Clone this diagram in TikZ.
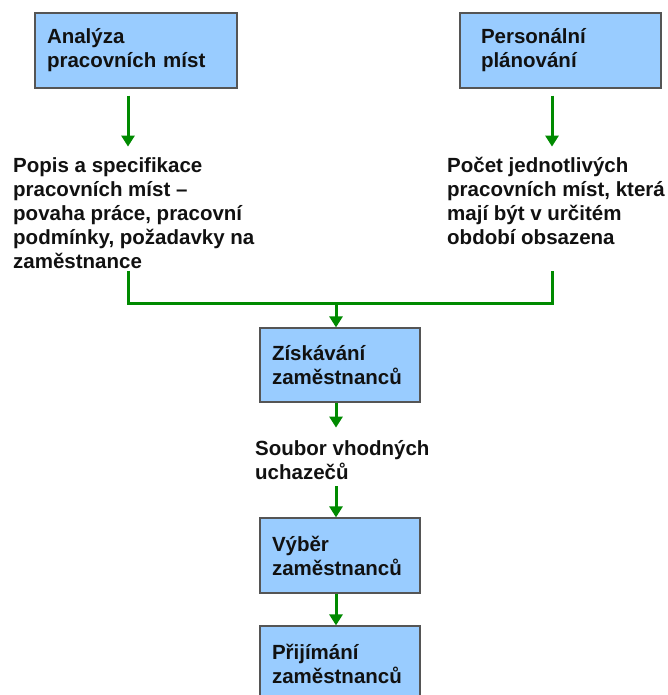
\documentclass[tikz,border=0pt]{standalone}
\usepackage{fontspec}
\setmainfont{Liberation Sans}
\usetikzlibrary{arrows.meta,calc}
\definecolor{boxblue}{HTML}{99CCFF}
\definecolor{boxline}{HTML}{555555}
\definecolor{arrgreen}{HTML}{008A00}
\definecolor{txt}{HTML}{111111}
\begin{document}
\begin{tikzpicture}[x=1pt,y=-1pt,
  every node/.style={font=\bfseries\fontsize{20.5}{24}\selectfont, inner sep=0pt, text=txt},
  wideblock/.style={draw=boxline, line width=1.2pt, fill=boxblue, minimum height=75pt, align=left},
  smallblock/.style={wideblock, text width=136pt, inner xsep=12pt},
  plaintext/.style={anchor=north west, align=left},
  conn/.style={draw=arrgreen, line width=3pt, line join=miter},
  arr/.style={conn, -{Triangle[width=13pt,length=11pt]}}]
\useasboundingbox (0,0) rectangle (668,695);
\clip (0,0) rectangle (668,695);
% boxes
\node[wideblock, text width=178pt, inner xsep=12pt] (b1) at (136,50.5) {Analýza\\pracovních míst};
\node[wideblock, text width=159pt, inner xsep=21pt] (b2) at (560.5,50.5) {Personální\\plánování};
\node[smallblock, minimum height=74pt] (b3) at (340,365) {Získávání\\zaměstnanců};
\node[smallblock] (b4) at (340,555.5) {Výběr\\zaměstnanců};
\node[smallblock] (b5) at (340,663.5) {Přijímání\\zaměstnanců};
% texts
\node[plaintext] (t1) at (13,157) {Popis a specifikace\\pracovních míst –\\povaha práce, pracovní\\podmínky, požadavky na\\zaměstnance};
\node[plaintext] (t2) at (447,157) {Počet jednotlivých\\pracovních míst, která\\mají být v určitém\\období obsazena};
\node[plaintext] (t3) at (255,440) {Soubor vhodných\\uchazečů};
% junction coordinates
\coordinate (l1) at ($(b1.south)+(-8,182)$);
\coordinate (jl) at ($(b1.south)+(-8,215)$);
\coordinate (l2) at ($(b2.south)+(-8.5,182)$);
\coordinate (jr) at ($(b2.south)+(-8.5,215)$);
\coordinate (jm) at ($(b3.north)+(-4,-25)$);
% connectors
\draw[arr] ($(b1.south)+(-8,7)$) -- ($(b1.south)+(-8,58)$);
\draw[arr] ($(b2.south)+(-8.5,7)$) -- ($(b2.south)+(-8.5,58)$);
\draw[conn] (l1) -- (jl) -- (jr) -- (l2);
\draw[arr] (jm) -- ($(b3.north)+(-4,0)$);
\draw[arr] ($(b3.south)+(-4,0)$) -- ($(b3.south)+(-4,25)$);
\draw[arr] ($(b4.north)+(-4,-31)$) -- ($(b4.north)+(-4,0)$);
\draw[arr] ($(b4.south)+(-4,0)$) -- ($(b5.north)+(-4,0)$);
\end{tikzpicture}
\end{document}
